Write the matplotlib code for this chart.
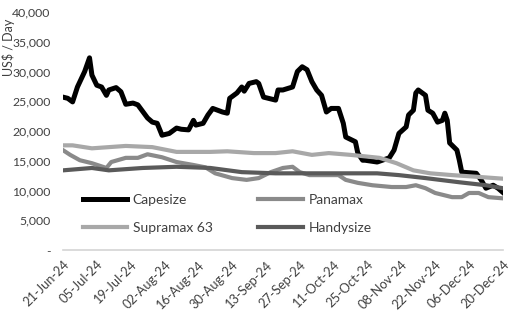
import pandas as pd
import matplotlib.pyplot as plt
import matplotlib.dates as mdates
from matplotlib.ticker import FuncFormatter

plt.rcParams['font.family'] = ['Lato', 'DejaVu Sans']

# daily time charter earnings, US$/day
cape_dates = ['2024-06-21', '2024-06-23', '2024-06-25', '2024-06-27', '2024-06-30', '2024-07-02',
              '2024-07-03', '2024-07-05', '2024-07-07', '2024-07-09', '2024-07-10', '2024-07-13',
              '2024-07-15', '2024-07-17', '2024-07-20', '2024-07-22', '2024-07-26', '2024-07-28',
              '2024-07-30', '2024-08-01', '2024-08-04', '2024-08-07', '2024-08-09', '2024-08-12',
              '2024-08-14', '2024-08-15', '2024-08-18', '2024-08-20', '2024-08-22', '2024-08-26',
              '2024-08-28', '2024-08-29', '2024-09-01', '2024-09-03', '2024-09-04', '2024-09-06',
              '2024-09-09', '2024-09-10', '2024-09-12', '2024-09-14', '2024-09-17', '2024-09-18',
              '2024-09-20', '2024-09-24', '2024-09-26', '2024-09-28', '2024-09-30', '2024-10-02',
              '2024-10-04', '2024-10-06', '2024-10-08', '2024-10-10', '2024-10-13', '2024-10-15',
              '2024-10-16', '2024-10-20', '2024-10-21', '2024-10-23', '2024-10-24', '2024-10-29',
              '2024-11-03', '2024-11-05', '2024-11-07', '2024-11-10', '2024-11-11', '2024-11-13',
              '2024-11-14', '2024-11-15', '2024-11-18', '2024-11-19', '2024-11-21', '2024-11-23',
              '2024-11-25', '2024-11-26', '2024-11-27', '2024-11-28', '2024-12-01', '2024-12-02',
              '2024-12-03', '2024-12-09', '2024-12-11', '2024-12-13', '2024-12-16', '2024-12-18',
              '2024-12-20']
capesize = [25700, 25500, 24900, 27400, 30000, 32300,
            29400, 27700, 27400, 26000, 26900, 27300,
            26600, 24500, 24700, 24400, 22200, 21500,
            21300, 19300, 19600, 20500, 20300, 20200,
            21800, 21000, 21300, 22700, 23800, 23200,
            23000, 25500, 26400, 27400, 26700, 28000,
            28300, 28000, 25700, 25500, 25200, 26900,
            26900, 27400, 30000, 30800, 30300, 28300,
            26900, 26000, 23200, 23800, 23800, 21300,
            19000, 18200, 16300, 15100, 15100, 14800,
            15500, 16800, 19600, 20700, 22700, 23500,
            26400, 26900, 26000, 23500, 23000, 21500,
            21800, 23000, 21800, 18000, 16800, 15100,
            13100, 12900, 11800, 10400, 10900, 10400,
            9700]

pana_dates = ['2024-06-21', '2024-06-24', '2024-06-28', '2024-07-03', '2024-07-09', '2024-07-11',
              '2024-07-17', '2024-07-22', '2024-07-26', '2024-08-01', '2024-08-07', '2024-08-14',
              '2024-08-19', '2024-08-23', '2024-08-30', '2024-09-05', '2024-09-10', '2024-09-15',
              '2024-09-20', '2024-09-24', '2024-09-27', '2024-10-01', '2024-10-13', '2024-10-16',
              '2024-10-21', '2024-10-27', '2024-11-04', '2024-11-10', '2024-11-14', '2024-11-18',
              '2024-11-22', '2024-11-29', '2024-12-03', '2024-12-06', '2024-12-10', '2024-12-14',
              '2024-12-20']
panamax = [16800, 16000, 15100, 14600, 13800, 14800,
           15500, 15500, 16100, 15600, 14800, 14300,
           13900, 12900, 12100, 11800, 12100, 13100,
           13800, 14000, 13100, 12600, 12600, 11800,
           11300, 10900, 10600, 10600, 10900, 10400,
           9600, 8900, 8900, 9600, 9600, 8900,
           8700]

supra_dates = ['2024-06-21', '2024-06-25', '2024-07-03', '2024-07-17', '2024-07-28', '2024-08-07',
               '2024-08-21', '2024-08-28', '2024-09-08', '2024-09-17', '2024-09-24', '2024-10-02',
               '2024-10-09', '2024-10-18', '2024-10-30', '2024-11-06', '2024-11-13', '2024-11-20',
               '2024-11-29', '2024-12-10', '2024-12-20']
supramax = [17600, 17600, 17100, 17500, 17300, 16500,
            16500, 16600, 16300, 16300, 16600, 16000,
            16300, 16000, 15500, 14600, 13400, 12900,
            12600, 12300, 12000]

handy_dates = ['2024-06-21', '2024-07-03', '2024-07-10', '2024-07-24', '2024-08-07', '2024-08-21',
               '2024-09-03', '2024-09-17', '2024-10-01', '2024-10-14', '2024-10-29', '2024-11-07',
               '2024-11-18', '2024-12-02', '2024-12-13', '2024-12-20']
handysize = [13400, 13800, 13400, 13800, 14000, 13800,
             13100, 12900, 12900, 12900, 12900, 12600,
             12100, 11400, 10900, 10400]

fig = plt.figure(figsize=(5.2, 3.24), dpi=100)
ax = fig.add_axes([0.121, 0.228, 0.846, 0.735])

l_cape, = ax.plot(pd.to_datetime(cape_dates), capesize, color='black', lw=3.6, label='Capesize')
l_pana, = ax.plot(pd.to_datetime(pana_dates), panamax, color='#8a8a8a', lw=3.0, label='Panamax')
l_supra, = ax.plot(pd.to_datetime(supra_dates), supramax, color='#a8a8a8', lw=3.0, label='Supramax 63')
l_handy, = ax.plot(pd.to_datetime(handy_dates), handysize, color='#5a5a5a', lw=3.0, label='Handysize')

ax.set_ylim(0, 40000)
ax.set_yticks(range(0, 40001, 5000))
ax.yaxis.set_major_formatter(FuncFormatter(lambda v, p: '-' if v == 0 else f'{int(v):,}'))
ax.set_xlim(pd.Timestamp('2024-06-21'), pd.Timestamp('2024-12-20'))
ax.set_xticks(pd.date_range('2024-06-21', '2024-12-20', freq='14D'))
ax.xaxis.set_major_formatter(mdates.DateFormatter('%d-%b-%y'))

for s in ['top', 'right', 'left']:
    ax.spines[s].set_visible(False)
ax.spines['bottom'].set_color('#d4d4d4')
ax.spines['bottom'].set_linewidth(1.2)
ax.tick_params(axis='y', length=0, pad=9, labelsize=8.8, labelcolor='#404040')
ax.tick_params(axis='x', length=0, pad=6, labelsize=9.3, labelcolor='#404040')
plt.setp(ax.get_xticklabels(), rotation=45, ha='right', rotation_mode='anchor')

ax.set_ylabel('US$ / Day', fontsize=9, color='#404040')
ax.yaxis.set_label_coords(-0.11, 0.85)

ax.legend([l_cape, l_supra, l_pana, l_handy], ['Capesize', 'Supramax 63', 'Panamax', 'Handysize'],
          ncol=2, frameon=False, loc='upper left', bbox_to_anchor=(0.045, 0.235),
          borderaxespad=0, borderpad=0, handlelength=3.2, handletextpad=0.4,
          columnspacing=3.3, labelspacing=1.15, fontsize=10, labelcolor='#404040')

plt.savefig('out.png')
